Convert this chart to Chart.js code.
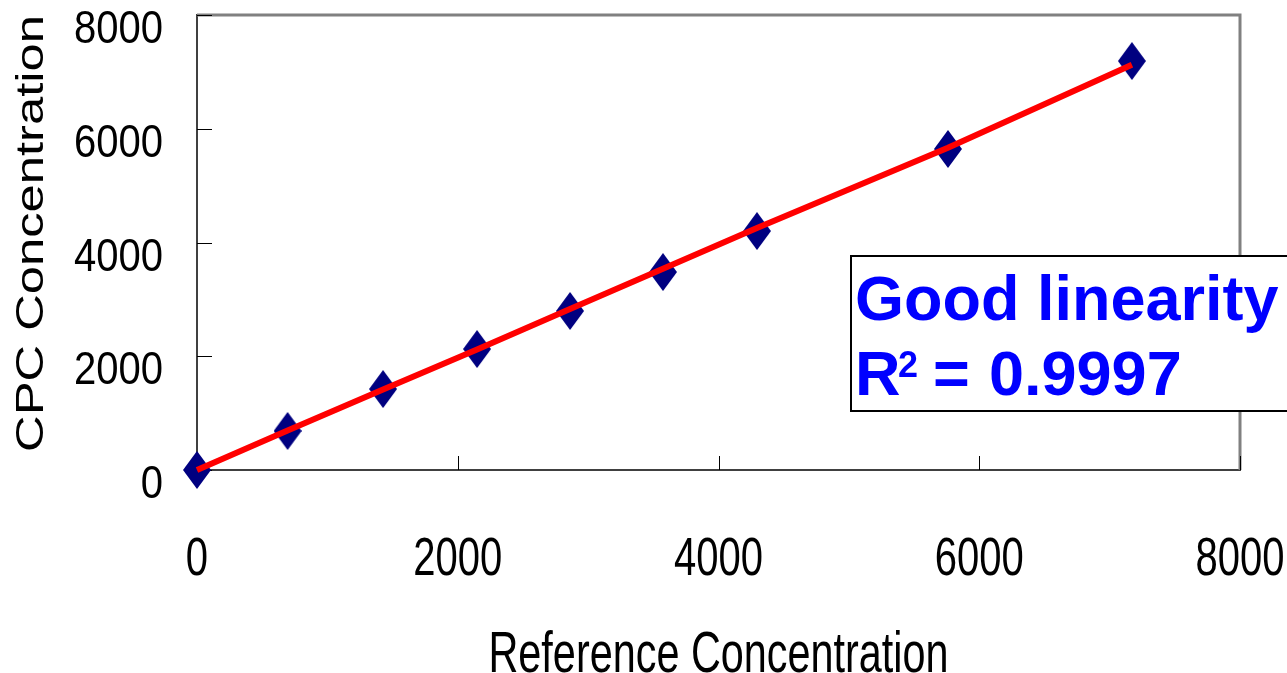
<!DOCTYPE html>
<html><head><meta charset="utf-8">
<script src="https://cdn.jsdelivr.net/npm/chart.js@4.4.1/dist/chart.umd.min.js"></script>
<style>html,body{margin:0;padding:0;background:#fff;}#wrap{width:1287px;height:673px;}</style>
</head><body><div id="wrap"><canvas id="c" width="1287" height="673"></canvas></div>
<script>
// ---- data ----
const refConc = [0, 695, 1427, 2148, 2861, 3574, 4295, 5760, 7171];
const cpcConc = [0, 686, 1424, 2127, 2796, 3481, 4202, 5644, 7191];
const fitConc = [0, 695, 1415, 2120, 2830, 3540, 4255, 5665, 7125];
const xTicks = [0, 2000, 4000, 6000, 8000];
const yTicks = [0, 2000, 4000, 6000, 8000];
const xTitle = 'Reference Concentration';
const yTitle = 'CPC Concentration';
const noteLine1 = 'Good linearity';
const noteR2Value = '0.9997';

const SANS = "'Liberation Sans', Arial, sans-serif";

// diamond marker (taller than wide)
function makeDiamond(w, h, color) {
  const cv = document.createElement('canvas');
  cv.width = w; cv.height = h;
  const g = cv.getContext('2d');
  g.fillStyle = color;
  g.beginPath();
  g.moveTo(w / 2, 0); g.lineTo(w, h / 2); g.lineTo(w / 2, h); g.lineTo(0, h / 2);
  g.closePath(); g.fill();
  return cv;
}
const diamond = makeDiamond(28, 38, '#000080');

const scatterPts = refConc.map((x, i) => ({x, y: cpcConc[i]}));
const fitPts = refConc.map((x, i) => ({x, y: fitConc[i]}));

// scaled text helper (reference uses stretched / narrow faces)
function scaledText(ctx, text, x, y, size, sx, align, rot) {
  ctx.save();
  ctx.translate(x, y);
  if (rot) ctx.rotate(rot);
  ctx.scale(sx, 1);
  ctx.font = size + 'px ' + SANS;
  ctx.fillStyle = '#000';
  ctx.textAlign = align;
  ctx.textBaseline = 'alphabetic';
  ctx.fillText(text, 0, 0);
  ctx.restore();
}

const decorPlugin = {
  id: 'decor',
  beforeDatasetsDraw(chart) {
    const {ctx, chartArea: a, scales: {x, y}} = chart;
    ctx.save();
    // top & right frame
    ctx.strokeStyle = '#808080';
    ctx.lineWidth = 3;
    ctx.beginPath();
    ctx.moveTo(a.left, a.top); ctx.lineTo(a.right, a.top); ctx.lineTo(a.right, a.bottom);
    ctx.stroke();
    // inward tick marks
    ctx.strokeStyle = '#000';
    ctx.lineWidth = 1;
    ctx.beginPath();
    x.ticks.forEach(t => {
      const px = Math.round(x.getPixelForValue(t.value)) + 0.5;
      ctx.moveTo(px, a.bottom); ctx.lineTo(px, a.bottom - 14);
    });
    y.ticks.forEach(t => {
      const py = Math.round(y.getPixelForValue(t.value)) + 0.5;
      ctx.moveTo(a.left, py); ctx.lineTo(a.left + 15, py);
    });
    ctx.stroke();
    ctx.restore();

    // tick labels
    x.ticks.forEach(t => {
      scaledText(ctx, String(t.value), x.getPixelForValue(t.value), 575, 53, 0.755, 'center');
    });
    y.ticks.forEach(t => {
      scaledText(ctx, String(t.value), 163, y.getPixelForValue(t.value) + 28, 46, 0.87, 'right');
    });
    // x title
    scaledText(ctx, xTitle, (a.left + a.right) / 2, 672, 57, 0.726, 'center');
    // y title (rotated, stretched along its length)
    scaledText(ctx, yTitle, 43, (a.top + a.bottom) / 2 - 9, 39, 1.3, 'center', -Math.PI / 2);
  },
  afterDraw(chart) {
    const {ctx} = chart;
    ctx.save();
    // annotation box
    const bx = 851, by = 256, bw = 440, bh = 155;
    ctx.fillStyle = '#fff';
    ctx.fillRect(bx, by, bw, bh);
    ctx.strokeStyle = '#000';
    ctx.lineWidth = 2;
    ctx.strokeRect(bx, by, bw, bh);
    ctx.fillStyle = '#0000FF';
    ctx.textBaseline = 'alphabetic';
    ctx.textAlign = 'left';
    ctx.font = 'bold 63px ' + SANS;
    ctx.fillText(noteLine1, 855, 320);
    ctx.fillText('R', 855, 395);
    ctx.font = 'bold 36px ' + SANS;
    ctx.fillText('2', 898, 377);
    ctx.font = 'bold 63px ' + SANS;
    ctx.fillText('=', 933, 395);
    ctx.fillText(noteR2Value, 989, 395);
    ctx.restore();
  }
};

new Chart(document.getElementById('c'), {
  type: 'scatter',
  data: {
    datasets: [
      {
        type: 'line',
        label: 'fit',
        data: fitPts,
        borderColor: '#FF0000',
        borderWidth: 6,
        pointRadius: 0,
        fill: false,
        tension: 0,
        order: 0,
        clip: false
      },
      {
        label: 'CPC',
        data: scatterPts,
        pointStyle: diamond,
        pointRadius: 14,
        backgroundColor: '#000080',
        borderColor: '#000080',
        order: 1,
        clip: false
      }
    ]
  },
  options: {
    responsive: false,
    animation: false,
    devicePixelRatio: 1,
    layout: {padding: {left: 0, right: 47, top: 15, bottom: 0}},
    plugins: {legend: {display: false}, tooltip: {enabled: false}},
    scales: {
      x: {
        type: 'linear', min: 0, max: 8000,
        afterBuildTicks: s => { s.ticks = xTicks.map(v => ({value: v})); },
        ticks: {display: false},
        grid: {drawOnChartArea: false, drawTicks: false},
        border: {color: '#404040', width: 2},
        afterFit: s => { s.height = 203; s.paddingLeft = 0; s.paddingRight = 0; }
      },
      y: {
        type: 'linear', min: 0, max: 8000,
        afterBuildTicks: s => { s.ticks = yTicks.map(v => ({value: v})); },
        ticks: {display: false},
        grid: {drawOnChartArea: false, drawTicks: false},
        border: {color: '#404040', width: 2},
        afterFit: s => { s.width = 197; s.paddingTop = 0; s.paddingBottom = 0; }
      }
    }
  },
  plugins: [decorPlugin]
});
</script>
</body></html>
